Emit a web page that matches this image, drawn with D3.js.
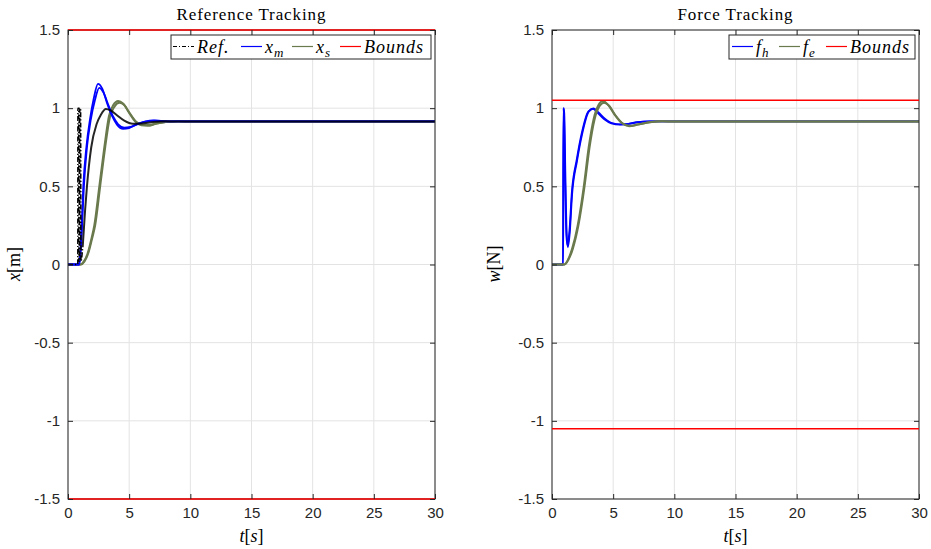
<!DOCTYPE html>
<html><head><meta charset="utf-8">
<script src="https://cdn.jsdelivr.net/npm/d3@7"></script>
<style>body{margin:0;background:#fff}svg{display:block}</style></head>
<body>
<svg id="c" width="931" height="549"></svg>
<script>
const xTicks = [0, 5, 10, 15, 20, 25, 30];
const yTicks = [1.5, 1, 0.5, 0, -0.5, -1, -1.5];
const yTickLabels = ["1.5", "1", "0.5", "0", "-0.5", "-1", "-1.5"];

// Left panel: reference tracking [t, value]
const refSeries = [[0,0],[0.8,0],[0.81,1],[0.88,1],[0.89,0.02],[0.95,0.02],[0.96,1],[1.03,1],[1.06,0.02],
  [1.2,0.11],[1.4,0.35],[1.55,0.5],[1.9,0.75],[2.35,0.9],[2.7,0.96],[3.1,0.995],[3.5,0.985],[4.0,0.955],
  [4.6,0.92],[5.3,0.9],[6.0,0.902],[7.0,0.912],[8.0,0.916],[9.0,0.915],[30,0.915]];
const xmRunA = [[0,0],[0.9,0],[1.0,0.08],[1.12,0.25],[1.25,0.5],[1.5,0.75],[1.8,0.93],[2.1,1.06],[2.45,1.155],
  [2.8,1.125],[3.2,1.03],[3.6,0.95],[4.0,0.895],[4.5,0.868],[5.0,0.873],[5.6,0.895],[6.3,0.914],[7.0,0.921],
  [8.0,0.917],[9.0,0.915],[30,0.915]];
const xmRunB = [[0,0],[0.92,0],[1.02,0.06],[1.15,0.25],[1.3,0.5],[1.55,0.75],[1.85,0.92],[2.2,1.05],[2.55,1.13],
  [2.9,1.1],[3.3,1.02],[3.7,0.945],[4.1,0.897],[4.6,0.876],[5.1,0.88],[5.7,0.9],[6.4,0.916],[7.1,0.92],
  [8.0,0.916],[9.0,0.915],[30,0.915]];
const xsRunA = [[0,0],[1.0,0],[1.3,0.02],[1.6,0.07],[1.9,0.16],[2.15,0.25],[2.56,0.5],[2.97,0.75],[3.35,0.95],
  [3.7,1.02],[4.1,1.046],[4.5,1.03],[5.0,0.97],[5.5,0.915],[6.0,0.89],[6.5,0.887],[7.2,0.9],[8.0,0.912],
  [9.0,0.916],[10,0.915],[30,0.915]];
const xsRunB = [[0,0],[1.05,0],[1.35,0.02],[1.65,0.07],[1.95,0.16],[2.22,0.25],[2.63,0.5],[3.04,0.75],[3.42,0.94],
  [3.8,1.01],[4.2,1.035],[4.6,1.02],[5.1,0.962],[5.6,0.912],[6.1,0.893],[6.6,0.892],[7.3,0.903],[8.1,0.913],
  [9.0,0.916],[10,0.915],[30,0.915]];
const boundsLeft = [1.5, -1.5];

// Right panel: force tracking
const fhRunA = [[0,0],[0.92,0],[0.95,1.0],[1.0,0.97],[1.1,0.55],[1.2,0.2],[1.3,0.11],[1.45,0.2],[1.64,0.445],
  [2.04,0.66],[2.45,0.83],[3.0,0.978],[3.4,0.998],[3.8,0.972],[4.3,0.935],[4.9,0.905],[5.6,0.896],[6.3,0.9],
  [7.0,0.91],[8.0,0.915],[30,0.915]];
const fhRunB = [[0,0],[0.9,0],[0.93,1.0],[0.98,0.96],[1.08,0.5],[1.18,0.18],[1.28,0.12],[1.43,0.22],[1.62,0.46],
  [2.02,0.67],[2.43,0.84],[2.98,0.98],[3.35,0.995],[3.75,0.968],[4.25,0.93],[4.85,0.903],[5.55,0.895],[6.25,0.9],
  [7.0,0.911],[8.0,0.915],[30,0.915]];
const feRunA = [[0,0],[1.0,0],[1.3,0.03],[1.64,0.1],[2.1,0.25],[2.6,0.5],[3.0,0.75],[3.4,0.93],[3.8,1.02],
  [4.15,1.046],[4.6,1.02],[5.1,0.96],[5.7,0.905],[6.3,0.885],[7.0,0.895],[8.0,0.91],[9.0,0.916],[10,0.915],[30,0.915]];
const feRunB = [[0,0],[1.04,0],[1.34,0.03],[1.7,0.1],[2.16,0.25],[2.66,0.5],[3.07,0.75],[3.47,0.925],[3.88,1.012],
  [4.25,1.035],[4.7,1.012],[5.2,0.953],[5.8,0.902],[6.4,0.887],[7.1,0.897],[8.1,0.911],[9.0,0.916],[10,0.915],[30,0.915]];
const boundsRight = [1.05, -1.05];

const BLUE = "#0000ff", GREEN = "#6a7a4d", RED = "#ff0000", AX = "#262626", GRID = "#e3e3e3";

const svg = d3.select("#c");

function panel(opts) {
  const x = d3.scaleLinear().domain([0, 30]).range([opts.x0, opts.x1]);
  const y = d3.scaleLinear().domain([-1.5, 1.5]).range([499, 30]);
  const g = svg.append("g");
  // grid
  g.selectAll(".gx").data(xTicks).join("line")
    .attr("x1", d => x(d)).attr("x2", d => x(d)).attr("y1", y(-1.5)).attr("y2", y(1.5))
    .attr("stroke", GRID).attr("stroke-width", 1);
  g.selectAll(".gy").data(yTicks).join("line")
    .attr("y1", d => y(d)).attr("y2", d => y(d)).attr("x1", x(0)).attr("x2", x(30))
    .attr("stroke", GRID).attr("stroke-width", 1);

  const line = d3.line().x(d => x(d[0])).y(d => y(d[1])).curve(d3.curveMonotoneX);
  const clip = "clip" + opts.id;
  svg.append("clipPath").attr("id", clip).append("rect")
    .attr("x", x(0)).attr("y", y(1.5) - 2).attr("width", x(30) - x(0)).attr("height", y(-1.5) - y(1.5) + 4);
  const lg = g.append("g").attr("clip-path", `url(#${clip})`);
  opts.series.forEach(s => {
    lg.append("path").datum(s.data.filter(s.filter || (() => true))).attr("d", line)
      .attr("fill", "none").attr("stroke", s.color).attr("stroke-width", s.w)
      .attr("stroke-opacity", s.op || 1)
      .attr("stroke-dasharray", s.dash || null).attr("stroke-linejoin", "round");
  });

  // box
  g.append("rect").attr("x", x(0)).attr("y", y(1.5)).attr("width", x(30) - x(0)).attr("height", y(-1.5) - y(1.5))
    .attr("fill", "none").attr("stroke", AX).attr("stroke-width", 1);
  // bounds
  opts.bounds.forEach(b => {
    g.append("line").attr("x1", x(0)).attr("x2", x(30)).attr("y1", y(b)).attr("y2", y(b))
      .attr("stroke", RED).attr("stroke-width", 1.5);
  });

  // axes (ticks inside)
  const tl = 5;
  const ax = d3.axisBottom(x).tickValues(xTicks).tickSize(-tl).tickPadding(8).tickFormat(d3.format("d"));
  const axT = d3.axisTop(x).tickValues(xTicks).tickSize(-tl).tickFormat("");
  const ay = d3.axisLeft(y).tickValues(yTicks).tickSize(-tl).tickPadding(8).tickFormat((d, i) => yTickLabels[i]);
  const ayR = d3.axisRight(y).tickValues(yTicks).tickSize(-tl).tickFormat("");
  const style = sel => {
    sel.select(".domain").remove();
    sel.selectAll("line").attr("stroke", AX);
    sel.selectAll("text").attr("fill", AX).style("font-family", "'Liberation Sans', Arial, sans-serif").style("font-size", "15px");
  };
  g.append("g").attr("transform", `translate(0,${y(-1.5)})`).call(ax).call(style);
  g.append("g").attr("transform", `translate(0,${y(1.5)})`).call(axT).call(style);
  g.append("g").attr("transform", `translate(${x(0)},0)`).call(ay).call(style);
  g.append("g").attr("transform", `translate(${x(30)},0)`).call(ayR).call(style);

  const serif = "'Liberation Serif', 'DejaVu Serif', serif";
  // title
  g.append("text").attr("x", (x(0) + x(30)) / 2).attr("y", 20).attr("text-anchor", "middle")
    .style("font-family", serif).style("font-size", "17px").style("letter-spacing", "0.9px")
    .attr("fill", "#000").text(opts.title);
  // x label
  const xl = g.append("text").attr("x", (x(0) + x(30)) / 2).attr("y", 542).attr("text-anchor", "middle")
    .style("font-family", serif).style("font-size", "18px").attr("fill", "#000");
  xl.append("tspan").style("font-style", "italic").text("t");
  xl.append("tspan").text("[");
  xl.append("tspan").style("font-style", "italic").text("s");
  xl.append("tspan").text("]");
  // y label
  const yl = g.append("text").attr("transform", `translate(${opts.yLabX},264) rotate(-90)`).attr("text-anchor", "middle")
    .style("font-family", serif).style("font-size", "18px").attr("fill", "#000");
  yl.append("tspan").style("font-style", "italic").text(opts.yVar);
  yl.append("tspan").text(opts.yUnit);

  // legend
  const L = opts.legend;
  g.append("rect").attr("x", L.x).attr("y", 35).attr("width", L.w).attr("height", 24)
    .attr("fill", "#fff").attr("stroke", AX).attr("stroke-width", 1);
  L.items.forEach(it => {
    g.append("line").attr("x1", it.lx).attr("x2", it.lx + 21).attr("y1", 46.5).attr("y2", 46.5)
      .attr("stroke", it.color).attr("stroke-width", it.color === "#000" ? 1 : 1.2).attr("stroke-dasharray", it.dash || null);
    const t = g.append("text").attr("x", it.lx + 24).attr("y", 52.5).style("font-family", serif)
      .style("font-size", "18px").style("font-style", "italic").style("letter-spacing", "1px").attr("fill", "#000");
    t.append("tspan").text(it.main);
    if (it.sub) t.append("tspan").attr("dy", 4).style("font-size", "13px").text(it.sub);
  });
}

panel({
  id: "L", x0: 68, x1: 435, yLabX: 20, title: "Reference Tracking", yVar: "x", yUnit: "[m]", bounds: boundsLeft,
  series: [
    { data: xsRunB, color: GREEN, w: 2 }, { data: xsRunA, color: GREEN, w: 2 },
    { data: xmRunB, color: BLUE, w: 1.8 }, { data: xmRunA, color: BLUE, w: 1.8 },
    { data: refSeries, color: "#000", w: 1.5, dash: "5,2,1.2,2", filter: d => d[0] <= 1.2 },
    { data: refSeries, color: "#000", w: 2, op: 0.85, filter: d => d[0] >= 1.2 }
  ],
  legend: { x: 171, w: 260, items: [
    { lx: 173, color: "#000", dash: "4,2,1,2", main: "Ref." },
    { lx: 241, color: BLUE, main: "x", sub: "m" },
    { lx: 292, color: GREEN, main: "x", sub: "s" },
    { lx: 340, color: RED, main: "Bounds" }
  ] }
});

panel({
  id: "R", x0: 552, x1: 919, yLabX: 500, title: "Force Tracking", yVar: "w", yUnit: "[N]", bounds: boundsRight,
  series: [
    { data: fhRunB, color: BLUE, w: 1.8 }, { data: fhRunA, color: BLUE, w: 1.8 },
    { data: feRunB, color: GREEN, w: 2 }, { data: feRunA, color: GREEN, w: 2 }
  ],
  legend: { x: 729, w: 186, items: [
    { lx: 732, color: BLUE, main: "f", sub: "h" },
    { lx: 779, color: GREEN, main: "f", sub: "e" },
    { lx: 826, color: RED, main: "Bounds" }
  ] }
});
</script>
</body></html>
